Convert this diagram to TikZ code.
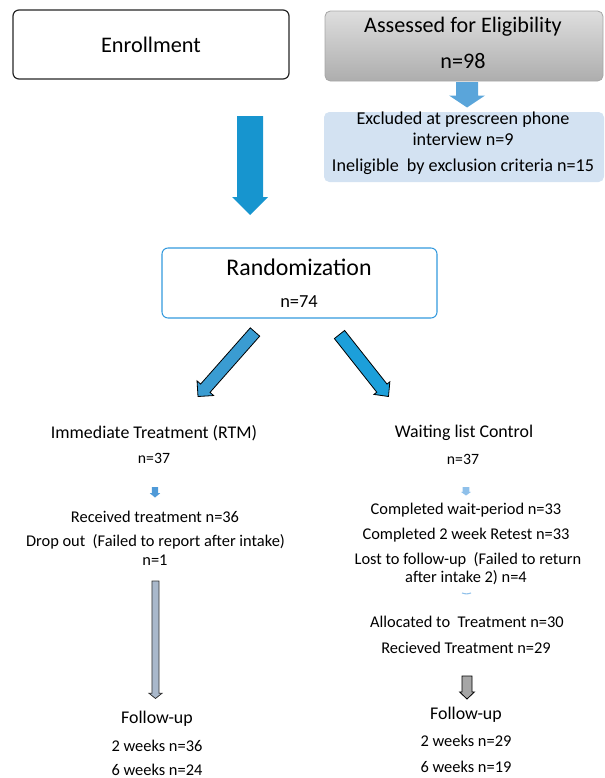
\documentclass[tikz,border=0pt]{standalone}
\usepackage{fontspec}
\setmainfont{Carlito}
\usetikzlibrary{calc}
\definecolor{bigblue}{HTML}{1795CF}
\definecolor{topblue}{HTML}{5AA5DA}
\definecolor{diagL}{HTML}{3A9CD2}
\definecolor{diagR}{HTML}{1C9FDA}
\definecolor{smallL}{HTML}{4F9AD8}
\definecolor{smallR}{HTML}{8FC0EA}
\definecolor{exclfill}{HTML}{D3E2F2}
\definecolor{randborder}{HTML}{3399DD}
\definecolor{slate}{HTML}{A9B8CB}
\definecolor{midgray}{HTML}{A6A6A6}
\newcommand{\blockarrow}[6]{% style, start, tip, shaft half, head half, head length
  \coordinate (ba-h) at ($(#3)!#6!(#2)$);
  \path[#1] ($(#2)!#4!90:(#3)$) -- ($(ba-h)!#4!90:(#3)$) -- ($(ba-h)!#5!90:(#3)$) -- (#3)
    -- ($(ba-h)!#5!-90:(#3)$) -- ($(ba-h)!#4!-90:(#3)$) -- ($(#2)!#4!-90:(#3)$) -- cycle;
}
\tikzset{
  txt/.style={inner sep=0pt, anchor=center},
  bodytxt/.style={txt, font=\fontsize{12.3}{14}\selectfont},
  headtxt/.style={txt, font=\fontsize{13.4}{15}\selectfont},
  exctxt/.style={txt, font=\fontsize{13.6}{15}\selectfont},
}
\begin{document}
\begin{tikzpicture}[x=0.75pt,y=-0.75pt]
\useasboundingbox (0,0) rectangle (605,778);

% top boxes
\node[draw=black!85, line width=0.9pt, rounded corners=4.5pt, minimum width=276*0.75pt, minimum height=69*0.75pt,
      font=\fontsize{16.7}{19}\selectfont] (enroll) at (151,44.5) {Enrollment};
\node[draw=black!35, line width=0.6pt, rounded corners=4pt, top color=black!13, bottom color=black!32,
      minimum width=278*0.75pt, minimum height=70*0.75pt] (assess) at (464,46) {};
\node[txt, font=\fontsize{16.6}{19}\selectfont] (assessT) at (463,27) {Assessed for Eligibility};
\node[txt, font=\fontsize{16.6}{19}\selectfont] (assessN) at (463,61) {n=98};

\node[fill=exclfill, rounded corners=4pt, minimum width=280*0.75pt, minimum height=70*0.75pt] (excl) at (464,147) {};
\node[exctxt] (ex1) at (463,120) {Excluded at prescreen phone};
\node[exctxt] (ex2) at (463,139.5) {interview n=9};
\node[exctxt] (ex3) at (463,167) {Ineligible\ \ by exclusion criteria n=15};

\coordinate (topA) at (467,82);
\coordinate (topB) at (467,107.5);
\blockarrow{fill=topblue}{topA}{topB}{8.25pt}{13.5pt}{9pt}

\coordinate (bigA) at (250,116);
\coordinate (bigB) at (250,215);
\blockarrow{fill=bigblue}{bigA}{bigB}{9.75pt}{13.5pt}{13.5pt}

% randomization
\node[draw=randborder, line width=0.8pt, rounded corners=4.5pt, minimum width=275*0.75pt, minimum height=70*0.75pt] (rand) at (299.5,283) {};
\node[txt, font=\fontsize{17.9}{20}\selectfont] (randT) at (299,267) {Randomization};
\node[txt, font=\fontsize{13.8}{15}\selectfont] (randN) at (299,302) {n=74};

\coordinate (dlA) at (255,332);
\coordinate (dlB) at (198,396.5);
\blockarrow{fill=diagL, draw=black, line width=0.6pt, line join=miter}{dlA}{dlB}{4.7pt}{8.3pt}{8.3pt}
\coordinate (drA) at (339.5,334.5);
\coordinate (drB) at (388.5,396.5);
\blockarrow{fill=diagR, draw=black, line width=0.6pt, line join=miter}{drA}{drB}{4.9pt}{7.6pt}{8pt}

% left column
\node[headtxt] (imm) at (154,433) {Immediate Treatment (RTM)};
\node[txt, font=\fontsize{11.8}{14}\selectfont] (immN) at (154,458) {n=37};
\coordinate (slA) at (155,487);
\coordinate (slB) at (155,497.5);
\blockarrow{fill=smallL}{slA}{slB}{2.4pt}{3.9pt}{3.2pt}
\node[bodytxt] (recv) at (155,517) {Received treatment n=36};
\node[bodytxt] (drop) at (155.5,542) {Drop out\ \ (Failed to report after intake)};
\node[bodytxt] (dropN) at (155,560) {n=1};
\coordinate (glA) at (155.5,581);
\coordinate (glB) at (155.5,698.5);
\blockarrow{fill=slate, draw=black!80, line width=0.55pt}{glA}{glB}{2.7pt}{5pt}{4pt}
\node[headtxt] (fuL) at (157,719) {Follow-up};
\node[bodytxt] (fuL2) at (157,746) {2 weeks n=36};
\node[bodytxt] (fuL6) at (157,770) {6 weeks n=24};

% right column
\node[headtxt] (wait) at (464,433) {Waiting list Control};
\node[txt, font=\fontsize{11.8}{14}\selectfont] (waitN) at (463,459) {n=37};
\coordinate (srA) at (466,487);
\coordinate (srB) at (466,495.5);
\blockarrow{fill=smallR}{srA}{srB}{2.6pt}{3.9pt}{2.8pt}
\node[bodytxt] (cw) at (466,510) {Completed wait-period n=33};
\node[bodytxt] (cr) at (466,535) {Completed 2 week Retest n=33};
\node[bodytxt] (lost1) at (468,560) {Lost to follow-up\ \ (Failed to return};
\node[bodytxt] (lost2) at (466,578) {after intake 2) n=4};
\coordinate (dashA) at (462,593);
\coordinate (dashB) at (471,593);
\draw[smallR, line width=0.8pt] (dashA) .. controls (466.5,594.2) .. (dashB);
\node[bodytxt] (alloc) at (467,622) {Allocated to\ \ Treatment n=30};
\node[bodytxt] (recv2) at (466,648) {Recieved Treatment n=29};
\coordinate (grA) at (467,676);
\coordinate (grB) at (467,699);
\blockarrow{fill=midgray, draw=black, line width=0.6pt}{grA}{grB}{3.75pt}{5.6pt}{5.3pt}
\node[headtxt] (fuR) at (466,715) {Follow-up};
\node[bodytxt] (fuR2) at (466,741) {2 weeks n=29};
\node[bodytxt] (fuR6) at (466,767) {6 weeks n=19};
\end{tikzpicture}
\end{document}
